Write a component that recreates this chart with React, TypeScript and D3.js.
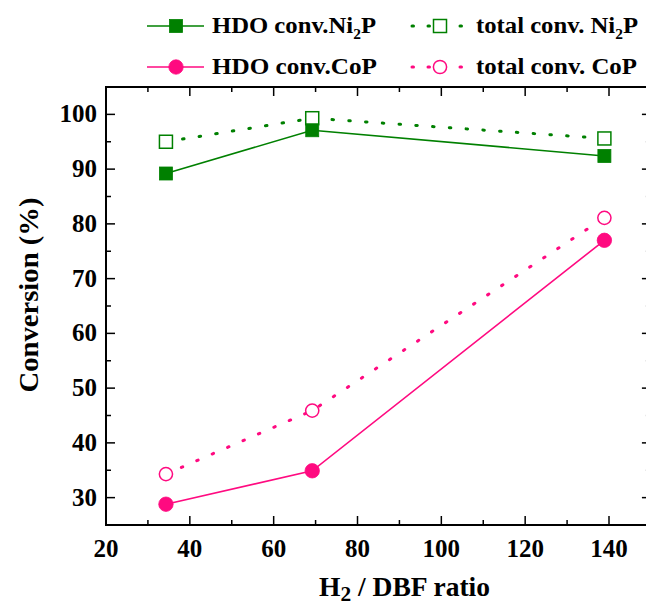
import React from "react";
import * as d3 from "d3";

const ratios = [34.3, 69.2, 138.9];
const hdoNi2P = [89.2, 97.1, 92.4];
const totalNi2P = [95.0, 99.3, 95.6];
const hdoCoP = [28.8, 34.9, 77.0];
const totalCoP = [34.3, 45.9, 81.1];
const xTicks = [20, 40, 60, 80, 100, 120, 140];
const yTicks = [30, 40, 50, 60, 70, 80, 90, 100];

const GREEN = "#008000";
const PINK = "#ff0a80";
const FONT = "'Liberation Serif', 'Times New Roman', serif";

const W = 646;
const H = 605;
const left = 106;
const top = 87;
const bottom = 525;

export default function App() {
  const x = d3.scaleLinear().domain([20, 150]).range([left, left + 130 * (503 / 120)]);
  const y = d3.scaleLinear().domain([25, 105]).range([bottom, top]);
  const right = x(150);
  const line = d3
    .line<[number, number]>()
    .x((d) => x(d[0]))
    .y((d) => y(d[1]));
  const pts = (vals: number[]) => ratios.map((r, i) => [r, vals[i]] as [number, number]);

  const xMinor = d3.range(20, 151, 10);
  const yMinor = d3.range(25, 106, 5);
  const dotted = { strokeWidth: 3, strokeDasharray: "1.5 15.3", strokeLinecap: "round" as const };

  const sq = (cx: number, cy: number, filled: boolean, color: string, key: string) => (
    <rect
      key={key}
      x={cx - 6.5}
      y={cy - 6.5}
      width={13}
      height={13}
      fill={filled ? color : "#fff"}
      stroke={color}
      strokeWidth={filled ? 0.8 : 1.5}
    />
  );
  const circ = (cx: number, cy: number, filled: boolean, color: string, key: string) => (
    <circle key={key} cx={cx} cy={cy} r={filled ? 7.2 : 6.6} fill={filled ? color : "#fff"} stroke={color} strokeWidth={filled ? 0.8 : 1.5} />
  );

  return (
    <svg
      width={W}
      height={H}
      style={{ position: "absolute", left: 0, top: 0, display: "block", background: "#fff" }}
      fontFamily={FONT}
      fontWeight="bold"
    >
      {/* frame */}
      <rect x={left} y={top} width={right - left} height={bottom - top} fill="none" stroke="#000" strokeWidth={2} />
      {/* ticks */}
      {xMinor.map((v) => {
        const major = v % 20 === 0;
        const len = major ? 9 : 5;
        return (
          <g key={"xt" + v}>
            <line x1={x(v)} x2={x(v)} y1={bottom} y2={bottom - len} stroke="#000" strokeWidth={1.5} />
            <line x1={x(v)} x2={x(v)} y1={top} y2={top + len} stroke="#000" strokeWidth={1.5} />
          </g>
        );
      })}
      {yMinor.map((v) => {
        const major = v % 10 === 0;
        const len = major ? 9 : 5;
        return (
          <g key={"yt" + v}>
            <line x1={left} x2={left + len} y1={y(v)} y2={y(v)} stroke="#000" strokeWidth={1.5} />
            <line x1={right} x2={right - len} y1={y(v)} y2={y(v)} stroke="#000" strokeWidth={1.5} />
          </g>
        );
      })}
      {xTicks.map((v) => (
        <text key={"xl" + v} x={x(v)} y={557} textAnchor="middle" fontSize={25}>
          {v}
        </text>
      ))}
      {yTicks.map((v) => (
        <text key={"yl" + v} x={97} y={y(v) + 8} textAnchor="end" fontSize={25}>
          {v}
        </text>
      ))}
      {/* axis titles */}
      <text
        x={0}
        y={0}
        transform={`translate(38,${295}) rotate(-90)`}
        textAnchor="middle"
        fontSize={28}
        textLength={195}
        lengthAdjust="spacingAndGlyphs"
      >
        Conversion (%)
      </text>
      <text x={319} y={596} fontSize={27} textLength={171} lengthAdjust="spacingAndGlyphs">
        H<tspan fontSize={21} dy={5}>2</tspan>
        <tspan dy={-5}> / DBF ratio</tspan>
      </text>

      {/* series lines */}
      <path d={line(pts(totalNi2P)) || ""} fill="none" stroke={GREEN} {...dotted} />
      <path d={line(pts(totalCoP)) || ""} fill="none" stroke={PINK} {...dotted} />
      <path d={line(pts(hdoNi2P)) || ""} fill="none" stroke={GREEN} strokeWidth={1.6} />
      <path d={line(pts(hdoCoP)) || ""} fill="none" stroke={PINK} strokeWidth={1.6} />
      {/* markers */}
      {pts(totalNi2P).map((d, i) => sq(x(d[0]), y(d[1]), false, GREEN, "tn" + i))}
      {pts(totalCoP).map((d, i) => circ(x(d[0]), y(d[1]), false, PINK, "tc" + i))}
      {pts(hdoNi2P).map((d, i) => sq(x(d[0]), y(d[1]), true, GREEN, "hn" + i))}
      {pts(hdoCoP).map((d, i) => circ(x(d[0]), y(d[1]), true, PINK, "hc" + i))}

      {/* legend */}
      <g>
        <line x1={147} x2={204} y1={26} y2={26} stroke={GREEN} strokeWidth={1.6} />
        {sq(176, 26, true, GREEN, "l1")}
        <text x={212} y={33} fontSize={24} textLength={164} lengthAdjust="spacingAndGlyphs">
          HDO conv.Ni<tspan fontSize={15} dy={6}>2</tspan>
          <tspan dy={-6}>P</tspan>
        </text>
        <line x1={147} x2={204} y1={67} y2={67} stroke={PINK} strokeWidth={1.6} />
        {circ(176, 67, true, PINK, "l2")}
        <text x={212} y={74} fontSize={24} textLength={165} lengthAdjust="spacingAndGlyphs">
          HDO conv.CoP
        </text>
        <line x1={412} x2={470} y1={26} y2={26} stroke={GREEN} {...dotted} strokeDasharray="1.5 14.5" />
        {sq(440, 26, false, GREEN, "l3")}
        <text x={476} y={33} fontSize={24} textLength={162} lengthAdjust="spacingAndGlyphs">
          total conv. Ni<tspan fontSize={15} dy={6}>2</tspan>
          <tspan dy={-6}>P</tspan>
        </text>
        <line x1={412} x2={470} y1={67} y2={67} stroke={PINK} {...dotted} strokeDasharray="1.5 14.5" />
        {circ(440, 67, false, PINK, "l4")}
        <text x={476} y={74} fontSize={24} textLength={161} lengthAdjust="spacingAndGlyphs">
          total conv. CoP
        </text>
      </g>
    </svg>
  );
}
